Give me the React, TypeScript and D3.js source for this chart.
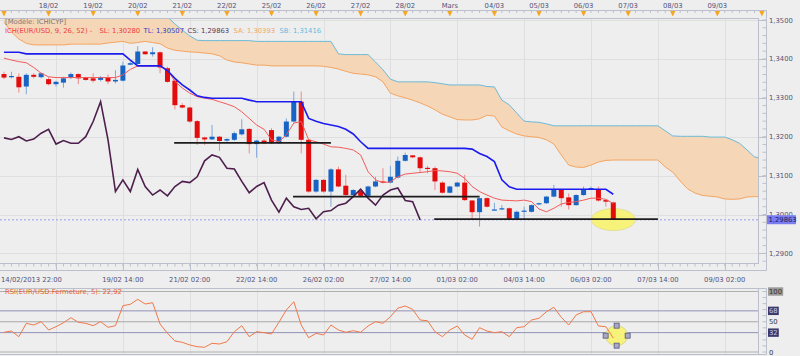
import React from "react";
import * as d3 from "d3";

// ---------- DATA ----------
const opens = [1.3361,1.3353,1.3354,1.3329,1.3359,1.3353,1.3348,1.3335,1.3339,1.3352,1.3361,1.3352,1.3350,1.3346,1.3352,1.3342,1.3344,1.3385,1.3387,1.3419,1.3412,1.3417,1.3376,1.3344,1.3281,1.3275,1.3240,1.3198,1.3193,1.3200,1.3190,1.3192,1.3206,1.3220,1.3181,1.3190,1.3217,1.3183,1.3200,1.3239,1.3290,1.3192,1.3059,1.3089,1.3059,1.3116,1.3074,1.3050,1.3061,1.3048,1.3072,1.3085,1.3082,1.3095,1.3138,1.3152,1.3147,1.3120,1.3119,1.3082,1.3056,1.3072,1.3082,1.3036,1.3006,1.3042,1.3011,1.3013,1.3016,1.2989,1.3007,1.3007,1.3026,1.3029,1.3046,1.3063,1.3044,1.3024,1.3050,1.3066,1.3065,1.3037,1.3031];
const highs = [1.3367,1.3367,1.3363,1.3363,1.3363,1.3365,1.3353,1.3344,1.3354,1.3365,1.3363,1.3354,1.3363,1.3356,1.3360,1.3371,1.3393,1.3393,1.3433,1.3420,1.3430,1.3419,1.3380,1.3348,1.3286,1.3277,1.3243,1.3200,1.3230,1.3202,1.3196,1.3213,1.3245,1.3222,1.3192,1.3194,1.3222,1.3202,1.3247,1.3316,1.3316,1.3194,1.3091,1.3091,1.3119,1.3123,1.3102,1.3065,1.3063,1.3074,1.3097,1.3119,1.3125,1.3149,1.3159,1.3153,1.3149,1.3125,1.3123,1.3085,1.3074,1.3084,1.3102,1.3037,1.3044,1.3044,1.3030,1.3024,1.3018,1.3010,1.3020,1.3026,1.3030,1.3048,1.3076,1.3065,1.3054,1.3052,1.3072,1.3072,1.3072,1.3039,1.3033];
const lows = [1.3348,1.3350,1.3313,1.3309,1.3350,1.3350,1.3332,1.3329,1.3326,1.3348,1.3335,1.3344,1.3339,1.3342,1.3335,1.3337,1.3342,1.3384,1.3385,1.3410,1.3406,1.3363,1.3339,1.3270,1.3273,1.3236,1.3179,1.3179,1.3192,1.3163,1.3187,1.3189,1.3203,1.3157,1.3146,1.3181,1.3181,1.3181,1.3198,1.3236,1.3157,1.3056,1.3056,1.3056,1.3020,1.3070,1.3048,1.3048,1.3046,1.3046,1.3070,1.3080,1.3080,1.3093,1.3136,1.3145,1.3106,1.3106,1.3063,1.3054,1.3054,1.3070,1.3035,1.2986,1.2969,1.3018,1.3010,1.3011,1.2986,1.2986,1.2987,1.3005,1.3024,1.3027,1.3044,1.3020,1.3013,1.3023,1.3048,1.3065,1.3033,1.3020,1.29863];
const closes = [1.3352,1.3356,1.3327,1.3359,1.3354,1.3363,1.3335,1.3341,1.3350,1.3361,1.3350,1.3346,1.3344,1.3352,1.3342,1.3346,1.3383,1.3389,1.3419,1.3412,1.3417,1.3378,1.3341,1.3281,1.3275,1.3239,1.3197,1.3193,1.3200,1.3189,1.3194,1.3209,1.3219,1.3181,1.3190,1.3183,1.3183,1.3200,1.3239,1.3290,1.3192,1.3059,1.3089,1.3059,1.3116,1.3072,1.3050,1.3063,1.3048,1.3072,1.3085,1.3082,1.3097,1.3138,1.3153,1.3147,1.3119,1.3117,1.3085,1.3056,1.3072,1.3082,1.3037,1.3006,1.3042,1.3020,1.3013,1.3016,1.2989,1.3007,1.3010,1.3024,1.3029,1.3046,1.3065,1.3042,1.3024,1.3050,1.3063,1.3068,1.3036,1.3033,1.29863];

// Ichimoku lines
const tenkan = [1.3402,1.3397,1.3393,1.3390,1.3378,1.3363,1.3354,1.3352,1.3352,1.3352,1.3352,1.3352,1.3352,1.3352,1.3352,1.3352,1.3359,1.3373,1.3382,1.3382,1.3382,1.3382,1.3372,1.3342,1.3325,1.3312,1.3303,1.3299,1.3296,1.3290,1.3284,1.3277,1.3264,1.3247,1.3230,1.3219,1.3192,1.3187,1.3205,1.3235,1.3239,1.3192,1.3187,1.3181,1.3174,1.3173,1.3170,1.3166,1.3153,1.3110,1.3089,1.3082,1.3084,1.3097,1.3104,1.3106,1.3108,1.3110,1.3113,1.3112,1.3110,1.3106,1.3093,1.3072,1.3059,1.3050,1.3042,1.3037,1.3036,1.3035,1.3037,1.3033,1.3014,1.3007,1.3016,1.3027,1.3031,1.3033,1.3037,1.3042,1.3042,1.3039,1.3028];
const kijun = [1.3417,1.3417,1.3417,1.3413,1.3413,1.3413,1.3413,1.3413,1.3413,1.3413,1.3413,1.3413,1.3413,1.3413,1.3413,1.3413,1.3413,1.3397,1.3382,1.3382,1.3382,1.3382,1.3370,1.3350,1.3333,1.3320,1.3305,1.3301,1.3299,1.3299,1.3299,1.3299,1.3299,1.3294,1.3290,1.3290,1.3290,1.3290,1.3290,1.3290,1.3290,1.3247,1.3240,1.3234,1.3230,1.3226,1.3219,1.3207,1.3187,1.3170,1.3170,1.3170,1.3170,1.3170,1.3170,1.3170,1.3170,1.3170,1.3170,1.3170,1.3170,1.3170,1.3170,1.3168,1.3157,1.3149,1.3136,1.3089,1.3071,1.3065,1.3065,1.3065,1.3065,1.3065,1.3065,1.3065,1.3065,1.3065,1.3065,1.3065,1.3065,1.3065,1.3052];
const senkouA = [1.3495,1.3469,1.3451,1.3440,1.3436,1.3436,1.3436,1.3436,1.3436,1.3438,1.3438,1.3438,1.3438,1.3438,1.3441,1.3443,1.3445,1.3440,1.3442,1.3445,1.3442,1.3439,1.3428,1.3422,1.3420,1.3418,1.3417,1.3415,1.3413,1.3408,1.3397,1.3392,1.3390,1.3387,1.3384,1.3384,1.3382,1.3382,1.3382,1.3382,1.3382,1.3382,1.3382,1.3381,1.3378,1.3374,1.3368,1.3363,1.3361,1.3359,1.3354,1.3341,1.3312,1.3305,1.3300,1.3294,1.3287,1.3279,1.3269,1.3258,1.3251,1.3244,1.3243,1.3243,1.3246,1.3255,1.3253,1.3225,1.3215,1.3207,1.3202,1.3200,1.3198,1.3192,1.3181,1.3153,1.3127,1.3122,1.3121,1.3127,1.3135,1.3139,1.3140,1.3140,1.3140,1.3140,1.3140,1.3140,1.3140,1.3122,1.3109,1.3086,1.3066,1.3055,1.3049,1.3047,1.3045,1.3040,1.3039,1.3040,1.3045,1.3046,1.3046];
const senkouB = [1.3526,1.3526,1.3526,1.3526,1.3526,1.3526,1.3526,1.3526,1.3526,1.3526,1.3526,1.3526,1.3526,1.3526,1.3526,1.3526,1.3526,1.3526,1.3526,1.3526,1.3526,1.3526,1.3508,1.3490,1.3474,1.3459,1.3448,1.3447,1.3447,1.3447,1.3447,1.3447,1.3447,1.3447,1.3445,1.3445,1.3445,1.3445,1.3445,1.3445,1.3445,1.3445,1.3445,1.3445,1.3445,1.3413,1.3411,1.3411,1.3411,1.3411,1.3392,1.3372,1.3348,1.3341,1.3341,1.3341,1.3341,1.3341,1.3339,1.3336,1.3333,1.3333,1.3333,1.3333,1.3333,1.3329,1.3328,1.3294,1.3282,1.3261,1.3240,1.3238,1.3237,1.3233,1.3228,1.3228,1.3228,1.3228,1.3228,1.3228,1.3228,1.3228,1.3228,1.3228,1.3228,1.3228,1.3228,1.3228,1.3228,1.3215,1.3202,1.3201,1.3201,1.3201,1.3201,1.3199,1.3199,1.3199,1.3192,1.3183,1.3166,1.3148,1.3145];
const CHIKOU_SHIFT = 26;

const rsi = [32.6,34.7,25.3,47.4,44.6,50.1,36.4,41.8,48.4,56.7,49.1,47.4,43.5,50.1,40.8,43.5,76.5,78.8,87.1,79.3,81.5,46.3,30.9,18.2,16.0,11.6,8.8,7.8,14.4,13.2,17.0,33.6,43.5,25.3,33.6,31.9,29.8,49.1,69.4,83.1,44.6,23.6,30.9,28.1,44.6,36.4,32.6,35.2,32.6,43.0,50.1,47.4,58.3,72.5,76.0,70.6,52.9,51.7,33.6,25.3,36.4,43.0,28.1,21.0,40.2,34.7,31.9,33.6,25.3,40.2,41.8,52.9,55.7,66.6,73.9,57.4,44.6,61.2,66.6,66.6,43.0,41.8,22.92];

// support lines drawn on the chart: [fromIndex, toIndex, price]
const supportFrom = [22.9, 38.9, 57.9];
const supportTo = [44.0, 64.0, 88.0];
const supportPrice = [1.3184, 1.3046, 1.2988];
const lastPrice = 1.29863;

// axes
const priceTicks = [1.35, 1.34, 1.33, 1.32, 1.31, 1.30, 1.29];
const dayTickIdx = [6,12,18,24,30,36,42,48,54,60,66,72,78,84,90,96];
const dayLabels = ["18/02","19/02","20/02","21/02","22/02","25/02","26/02","27/02","28/02","Mars","04/03","05/03","06/03","07/03","08/03","09/03"];
const timeGridIdx = [7,16,25,34,43,52,61,70,79,88,97];
const timeLabels = ["","19/02 14:00","21/02 02:00","22/02 14:00","26/02 02:00","27/02 14:00","01/03 02:00","04/03 14:00","06/03 02:00","07/03 14:00","09/03 02:00"];
const firstTimeLabel = "14/02/2013 22:00";
const rsiLevels = [100, 68, 50, 32, 0];

// ---------- LAYOUT ----------
const PL = 0, PR = 758.5, PT = 18.5, PB = 263.5, RX = 766.5, BY = 270.5;
const RT = 288.5, RB = 354.5;
const FONT = "DejaVu Sans";
const FS = 6.8;

const fmtPrice = (v: number) => d3.format(".4f")(v).replace(".", ",");

export default function App() {
  const x = d3.scaleLinear().domain([0, 82]).range([4, 613.3]);
  const y = d3.scaleLinear().domain([1.29, 1.35]).range([253.4, 20]);
  const r = d3.scaleLinear().domain([0, 100]).range([352, 291.5]);

  const line = d3.line<number>().x((_, i) => x(i)).y((d) => y(d));
  const cloud = d3
    .area<number>()
    .x((_, i) => x(i))
    .y0((_, i) => y(senkouA[i]))
    .y1((_, i) => y(senkouB[i]));
  const chikou = closes.slice(CHIKOU_SHIFT);
  const rsiLine = d3.line<number>().x((_, i) => x(i)).y((d) => r(d));

  const allIdx = d3.range(0, 103);
  const minorPrice = d3.range(1.288, 1.3501, 0.002);

  const gridColor = "#dfdfdf";
  const axisColor = "#bcc0cc";
  const labelColor = "#55557a";

  const ex = x(82), ey = y(1.2987);
  const rex = x(82.45), rey = r(27);

  return (
    <svg
      width={800}
      height={356}
      style={{ position: "fixed", left: 0, top: 0, display: "block" }}
      fontFamily={FONT}
    >
      <defs>
        <clipPath id="mainClip">
          <rect x={PL} y={PT} width={PR - PL} height={PB - PT} />
        </clipPath>
        <clipPath id="rsiClip">
          <rect x={PL} y={RT} width={PR - PL} height={RB - RT} />
        </clipPath>
      </defs>
      <rect x={0} y={0} width={800} height={356} fill="#eeeeee" />

      {/* ---------- TOP RULER ---------- */}
      <line x1={0} x2={RX} y1={10.5} y2={10.5} stroke={axisColor} />
      <line x1={RX} x2={RX} y1={10.5} y2={PT} stroke={axisColor} />
      {allIdx.map((i) => (
        <line key={"tm" + i} x1={x(i)} x2={x(i)} y1={10.5} y2={13} stroke={axisColor} />
      ))}
      {d3.range(0, 103, 6).map((i) => (
        <path
          key={"tri" + i}
          d={`M${x(i) - 2.7},11 L${x(i) + 2.7},11 L${x(i)},16.5 Z`}
          fill="#f5a623"
        />
      ))}
      {dayTickIdx.map((i, k) => (
        <text key={"dl" + k} x={x(i)} y={8} fontSize={FS} fill={labelColor} textAnchor="middle">
          {dayLabels[k]}
        </text>
      ))}

      {/* ---------- MAIN PANEL ---------- */}
      {priceTicks.map((p) => (
        <line key={"hg" + p} x1={PL} x2={PR} y1={Math.round(y(p)) + 0.5} y2={Math.round(y(p)) + 0.5} stroke={gridColor} />
      ))}
      {timeGridIdx.map((i) => (
        <line key={"vg" + i} x1={Math.round(x(i)) + 0.5} x2={Math.round(x(i)) + 0.5} y1={PT} y2={PB} stroke={gridColor} />
      ))}

      <g clipPath="url(#mainClip)">
        <path d={cloud(senkouA) || ""} fill="#f5d6b6" />
        <path d={line(senkouA) || ""} fill="none" stroke="#f4a460" strokeWidth={1} />
        <path d={line(senkouB) || ""} fill="none" stroke="#6cbad8" strokeWidth={1} />

        <line x1={PL} x2={PR} y1={y(lastPrice)} y2={y(lastPrice)} stroke="#9c9cf0" strokeDasharray="2,2" />

        <ellipse cx={ex} cy={ey} rx={22} ry={11} fill="#f7f27a" stroke="#e4e09a" strokeWidth={1} />

        {opens.map((o, i) => {
          const c = closes[i];
          const up = c >= o;
          const cx = x(i);
          const top = y(Math.max(o, c));
          const bot = y(Math.min(o, c));
          return (
            <g key={"c" + i}>
              <line x1={cx} x2={cx} y1={y(highs[i])} y2={y(lows[i])} stroke={up ? "#7fa8d8" : "#ee8a8a"} strokeWidth={1} />
              <rect x={cx - 2.5} y={top} width={5} height={Math.max(1.2, bot - top)} fill={up ? "#1764c4" : "#e30b0b"} />
            </g>
          );
        })}

        <path d={line(tenkan) || ""} fill="none" stroke="#f25a5a" strokeWidth={1} />
        <path d={line(kijun) || ""} fill="none" stroke="#1c1cf0" strokeWidth={1.6} />
        <path d={line(chikou) || ""} fill="none" stroke="#4d1f4d" strokeWidth={1.6} />

        {supportPrice.map((p, k) => (
          <line key={"sl" + k} x1={x(supportFrom[k])} x2={x(supportTo[k])} y1={y(p)} y2={y(p)} stroke="#1c1c1c" strokeWidth={1.6} />
        ))}
      </g>

      <rect x={PL - 1} y={PT} width={PR - PL + 1} height={PB - PT} fill="none" stroke={axisColor} />

      {/* legend */}
      <text x={5} y={23.5} fontSize={FS} fill="#7a7a7a">[Modèle: ICHICYP]</text>
      <text x={5} y={32.8} fontSize={FS} fill="#f03c3c">ICH(EUR/USD, 9, 26, 52) -</text>
      <text x={99.5} y={32.8} fontSize={FS} fill="#f03c3c">SL: 1,30280</text>
      <text x={143.5} y={32.8} fontSize={FS} fill="#3a3ac8">TL: 1,30507</text>
      <text x={187.5} y={32.8} fontSize={FS} fill="#5a3a5a">CS: 1,29863</text>
      <text x={233.5} y={32.8} fontSize={FS} fill="#f2a868">SA: 1,30393</text>
      <text x={279.5} y={32.8} fontSize={FS} fill="#66bbdd">SB: 1,31416</text>

      {/* right price axis */}
      <line x1={RX} x2={RX} y1={PT} y2={BY} stroke={axisColor} />
      {minorPrice.map((p, k) => (
        <line key={"mp" + k} x1={762.5} x2={RX} y1={y(p)} y2={y(p)} stroke={axisColor} />
      ))}
      {priceTicks.map((p) => (
        <g key={"pt" + p}>
          <line x1={PR} x2={RX} y1={Math.round(y(p)) + 0.5} y2={Math.round(y(p)) + 0.5} stroke={axisColor} />
          <text x={769} y={y(p) + 2.5} fontSize={FS} fill={labelColor}>{fmtPrice(p)}</text>
        </g>
      ))}
      <rect x={767} y={y(lastPrice) - 4.6} width={29} height={9} fill="#7c7cf2" />
      <text x={768.5} y={y(lastPrice) + 2.5} fontSize={FS} fill="#1c1c5c">{d3.format(".5f")(lastPrice).replace(".", ",")}</text>

      {/* bottom time ruler */}
      <line x1={0} x2={RX} y1={BY} y2={BY} stroke={axisColor} />
      {d3.range(0, 102).map((i) => (
        <line key={"bm" + i} x1={x(i)} x2={x(i)} y1={PB} y2={266.5} stroke={axisColor} />
      ))}
      {timeGridIdx.map((i) => (
        <line key={"bM" + i} x1={Math.round(x(i)) + 0.5} x2={Math.round(x(i)) + 0.5} y1={PB} y2={BY} stroke={axisColor} />
      ))}
      {timeGridIdx.map((i, k) =>
        timeLabels[k] ? (
          <text key={"tl" + k} x={x(i)} y={281.5} fontSize={FS} fill={labelColor} textAnchor="middle">
            {timeLabels[k]}
          </text>
        ) : null
      )}
      <text x={1} y={281.5} fontSize={FS} fill={labelColor}>{firstTimeLabel}</text>

      {/* ---------- RSI PANEL ---------- */}
      <line x1={0} x2={RX} y1={RT} y2={RT} stroke={axisColor} />
      {timeGridIdx.map((i) => (
        <line key={"rvg" + i} x1={Math.round(x(i)) + 0.5} x2={Math.round(x(i)) + 0.5} y1={RT} y2={RB} stroke={gridColor} />
      ))}
      <line x1={0} x2={PR} y1={r(100)} y2={r(100)} stroke="#b0b0b0" />
      <line x1={0} x2={PR} y1={r(0)} y2={r(0)} stroke="#b0b0b0" />
      <line x1={0} x2={PR} y1={r(68)} y2={r(68)} stroke="#9090b8" />
      <line x1={0} x2={PR} y1={r(50)} y2={r(50)} stroke="#a8a8a8" />
      <line x1={0} x2={PR} y1={r(32)} y2={r(32)} stroke="#9090b8" />
      <line x1={0} x2={RX} y1={RB} y2={RB} stroke={axisColor} />
      <line x1={PR} x2={PR} y1={RT} y2={RB} stroke={axisColor} />
      <line x1={RX} x2={RX} y1={RT} y2={RB} stroke={axisColor} />
      {d3.range(0, 101, 10).map((v) => (
        <line key={"rt" + v} x1={762.5} x2={RX} y1={r(v)} y2={r(v)} stroke={axisColor} />
      ))}

      <ellipse cx={rex} cy={rey} rx={11} ry={10} fill="#f7f27a" stroke="#d8d890" />
      <g clipPath="url(#rsiClip)">
        <path d={rsiLine(rsi) || ""} fill="none" stroke="#f0784a" strokeWidth={1} />
      </g>
      {[
        [rex, rey - 10],
        [rex - 11, rey],
        [rex + 11, rey],
        [rex, rey + 10],
      ].map(([hx, hy], k) => (
        <rect key={"h" + k} x={hx - 2.5} y={hy - 2.5} width={5} height={5} fill="#a8a8c8" stroke="#555577" strokeWidth={0.8} />
      ))}

      <text x={5} y={294.2} fontSize={FS} fill="#e8602c">RSI(EUR/USD.Fermeture, 5): 22,92</text>

      {rsiLevels.map((v) => {
        const dark = v === 68 || v === 32;
        const gray = v === 100;
        const label = String(v);
        const w = label.length * 4.4 + 2;
        return (
          <g key={"rl" + v}>
            {dark && <rect x={768} y={r(v) - 4.2} width={w} height={8.4} fill="#3a3a6e" />}
            {gray && <rect x={768} y={r(v) - 4.2} width={w} height={8.4} fill="#9a9a9a" />}
            <text x={769} y={r(v) + 2.5} fontSize={FS} fill={dark ? "#c8c8f0" : "#333"}>{label}</text>
          </g>
        );
      })}
    </svg>
  );
}
